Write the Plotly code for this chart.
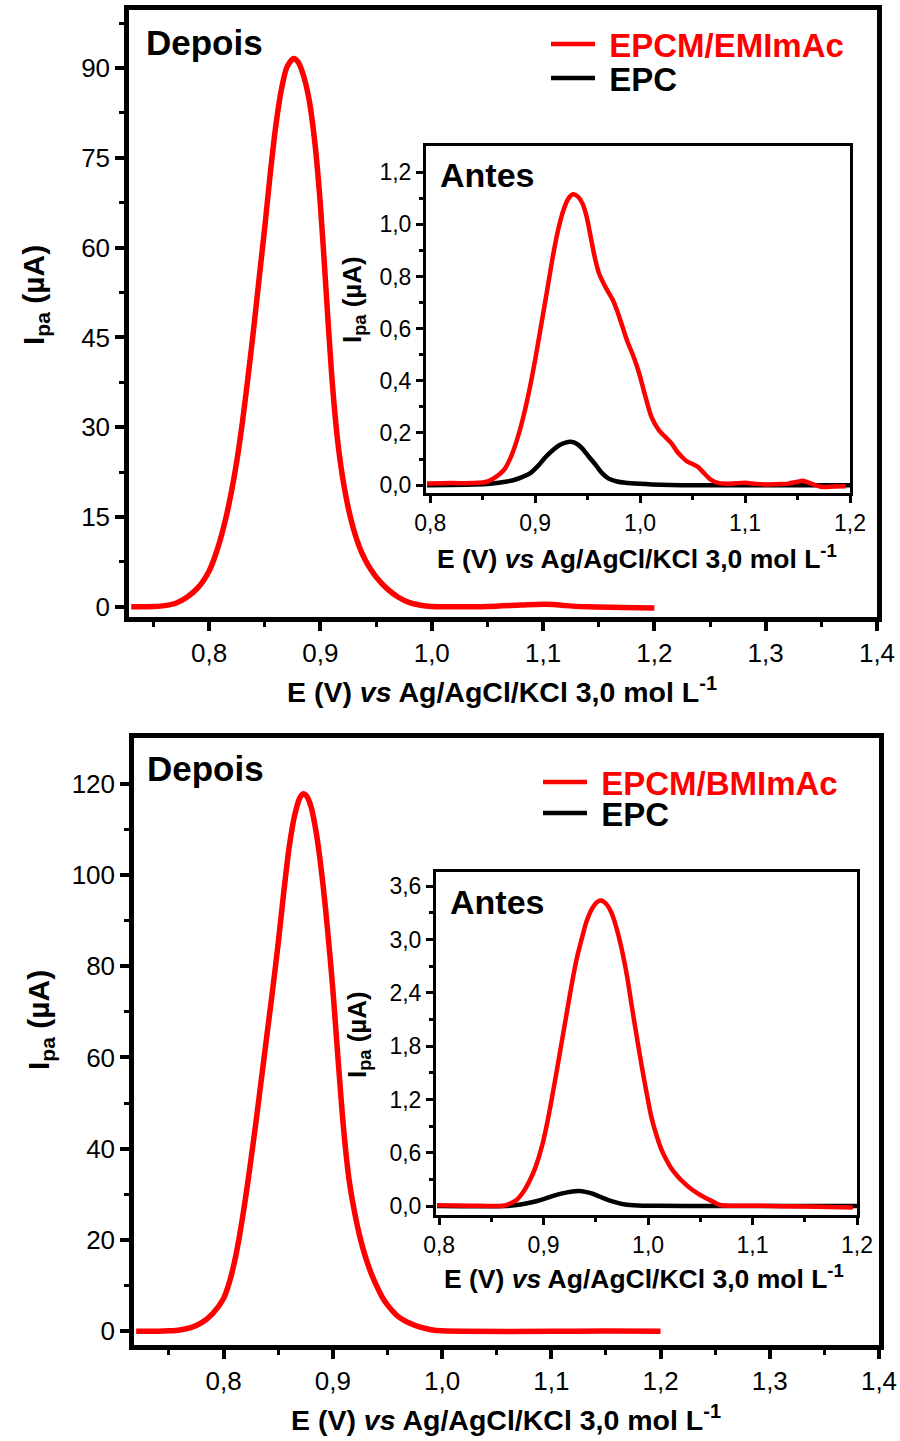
import plotly.graph_objects as go

# ---------------- data ----------------
# Panel A, "Depois": EPCM/EMImAc
dep1_E = [0.730, 0.740, 0.750, 0.760, 0.770, 0.780, 0.790, 0.800, 0.805, 0.810, 0.815, 0.820,
          0.825, 0.830, 0.835, 0.840, 0.845, 0.850, 0.855, 0.860, 0.865, 0.870, 0.876, 0.880,
          0.885, 0.890, 0.895, 0.900, 0.905, 0.910, 0.915, 0.920, 0.925, 0.930, 0.935, 0.940,
          0.945, 0.950, 0.960, 0.970, 0.980, 0.990, 1.000, 1.020, 1.050, 1.080, 1.100, 1.110,
          1.120, 1.140, 1.170, 1.200]
dep1_I = [0.0, 0.0, 0.05, 0.2, 0.6, 1.6, 3.2, 6.0, 8.3, 11.2, 14.8, 19.2,
          24.5, 31.0, 38.5, 46.5, 55.0, 63.5, 72.5, 80.5, 86.5, 90.2, 91.6, 91.0,
          88.6, 84.5, 77.5, 67.0, 53.0, 39.0, 28.5, 21.5, 16.5, 12.8, 10.0, 7.9,
          6.3, 5.0, 3.0, 1.6, 0.7, 0.25, 0.05, 0.0, 0.05, 0.3, 0.45, 0.4,
          0.2, 0.0, -0.1, -0.2]

# Panel A, "Antes": EPCM/EMImAc
ant1_E = [0.797, 0.820, 0.840, 0.854, 0.862, 0.870, 0.876, 0.882, 0.888, 0.894, 0.900, 0.906,
          0.912, 0.917, 0.922, 0.927, 0.932, 0.936, 0.941, 0.945, 0.949, 0.953, 0.957, 0.961,
          0.965, 0.969, 0.974, 0.978, 0.983, 0.988, 0.994, 0.999, 1.005, 1.011, 1.018, 1.024,
          1.030, 1.035, 1.040, 1.045, 1.049, 1.055, 1.060, 1.068, 1.075, 1.080, 1.090, 1.100,
          1.110, 1.119, 1.130, 1.141, 1.150, 1.155, 1.162, 1.172, 1.185, 1.196]
ant1_I = [0.006, 0.008, 0.008, 0.013, 0.030, 0.057, 0.100, 0.165, 0.250, 0.355, 0.480, 0.620,
          0.760, 0.880, 0.980, 1.055, 1.100, 1.115, 1.105, 1.080, 1.030, 0.950, 0.870, 0.810,
          0.775, 0.745, 0.710, 0.670, 0.610, 0.550, 0.490, 0.430, 0.340, 0.260, 0.210, 0.185,
          0.160, 0.130, 0.108, 0.090, 0.083, 0.070, 0.050, 0.019, 0.008, 0.006, 0.007, 0.009,
          0.005, 0.003, 0.004, 0.006, 0.013, 0.017, 0.008, -0.006, -0.005, -0.004]

# Panel A, "Antes": EPC
epc1_E = [0.797, 0.854, 0.870, 0.879, 0.887, 0.895, 0.903, 0.910, 0.917, 0.923, 0.929, 0.934,
          0.940, 0.945, 0.951, 0.958, 0.964, 0.970, 0.978, 0.986, 1.000, 1.011, 1.050, 1.200]
epc1_I = [0.000, 0.004, 0.012, 0.019, 0.030, 0.045, 0.075, 0.108, 0.135, 0.153, 0.163, 0.166,
          0.158, 0.140, 0.110, 0.076, 0.045, 0.025, 0.014, 0.009, 0.005, 0.003, 0.000, 0.000]

# Panel B, "Depois": EPCM/BMImAc
dep2_E = [0.720, 0.740, 0.750, 0.760, 0.770, 0.780, 0.790, 0.800, 0.805, 0.810, 0.815, 0.820,
          0.825, 0.830, 0.835, 0.840, 0.845, 0.850, 0.855, 0.860, 0.865, 0.870, 0.873, 0.876,
          0.880, 0.885, 0.890, 0.895, 0.900, 0.905, 0.910, 0.915, 0.920, 0.925, 0.930, 0.935,
          0.940, 0.945, 0.950, 0.960, 0.970, 0.980, 0.990, 1.000, 1.020, 1.100, 1.150, 1.200]
dep2_I = [0.0, 0.0, 0.1, 0.3, 0.8, 1.9, 3.9, 7.2, 10.5, 15.2, 21.5, 29.0,
          37.5, 46.5, 56.0, 65.5, 75.0, 85.0, 96.0, 106.0, 113.0, 117.0, 117.8, 117.3,
          115.0, 109.0, 100.0, 88.5, 75.0, 59.0, 44.0, 33.0, 26.0, 20.5, 16.2, 12.8,
          10.0, 7.6, 5.8, 3.2, 1.8, 0.9, 0.35, 0.1, 0.0, 0.0, 0.05, 0.0]

# Panel B, "Antes": EPCM/BMImAc
ant2_E = [0.798, 0.830, 0.861, 0.868, 0.874, 0.880, 0.886, 0.892, 0.899, 0.904, 0.908, 0.913,
          0.918, 0.923, 0.927, 0.932, 0.937, 0.941, 0.946, 0.951, 0.955, 0.960, 0.965, 0.970,
          0.975, 0.980, 0.984, 0.989, 0.994, 0.999, 1.003, 1.008, 1.013, 1.018, 1.022, 1.028,
          1.035, 1.041, 1.050, 1.057, 1.063, 1.069, 1.080, 1.104, 1.150, 1.196]
ant2_I = [0.010, 0.005, 0.004, 0.030, 0.068, 0.150, 0.270, 0.430, 0.700, 0.970, 1.220, 1.550,
          1.890, 2.230, 2.500, 2.800, 3.030, 3.200, 3.340, 3.420, 3.440, 3.400, 3.300, 3.120,
          2.880, 2.580, 2.280, 1.920, 1.570, 1.250, 1.010, 0.800, 0.630, 0.510, 0.430, 0.340,
          0.255, 0.195, 0.125, 0.080, 0.045, 0.012, 0.004, 0.004, -0.005, -0.015]

# Panel B, "Antes": EPC
epc2_E = [0.798, 0.864, 0.874, 0.883, 0.893, 0.902, 0.910, 0.918, 0.926, 0.934, 0.940, 0.946,
          0.954, 0.962, 0.970, 0.978, 0.990, 1.009, 1.040, 1.200]
epc2_I = [0.000, 0.000, 0.012, 0.030, 0.055, 0.086, 0.118, 0.143, 0.162, 0.169, 0.160, 0.143,
          0.105, 0.068, 0.040, 0.019, 0.008, 0.004, 0.000, 0.000]

# ---------------- ticks ----------------
main_x_vals = [0.8, 0.9, 1.0, 1.1, 1.2, 1.3, 1.4]
main_x_text = ["0,8", "0,9", "1,0", "1,1", "1,2", "1,3", "1,4"]
main_x_minor = [0.75, 0.85, 0.95, 1.05, 1.15, 1.25, 1.35]

inset_x_vals = [0.8, 0.9, 1.0, 1.1, 1.2]
inset_x_text = ["0,8", "0,9", "1,0", "1,1", "1,2"]
inset_x_minor = [0.85, 0.95, 1.05, 1.15]

main1_y_vals = [0, 15, 30, 45, 60, 75, 90]
main1_y_text = ["0", "15", "30", "45", "60", "75", "90"]
main1_y_minor = [7.5, 22.5, 37.5, 52.5, 67.5, 82.5, 97.5]

inset1_y_vals = [0.0, 0.2, 0.4, 0.6, 0.8, 1.0, 1.2]
inset1_y_text = ["0,0", "0,2", "0,4", "0,6", "0,8", "1,0", "1,2"]
inset1_y_minor = [0.1, 0.3, 0.5, 0.7, 0.9, 1.1]

main2_y_vals = [0, 20, 40, 60, 80, 100, 120]
main2_y_text = ["0", "20", "40", "60", "80", "100", "120"]
main2_y_minor = [10, 30, 50, 70, 90, 110]

inset2_y_vals = [0.0, 0.6, 1.2, 1.8, 2.4, 3.0, 3.6]
inset2_y_text = ["0,0", "0,6", "1,2", "1,8", "2,4", "3,0", "3,6"]
inset2_y_minor = [0.3, 0.9, 1.5, 2.1, 2.7, 3.3]

# ---------------- style ----------------
FONT = "Arial, 'Liberation Sans', sans-serif"
RED = "#ff0000"
BLACK = "#000000"
W, H = 900, 1441
NBSP = "\u00a0"

X_TITLE = "E (V) <i>vs</i> Ag/AgCl/KCl 3,0 mol L<sup>-1</sup>"
Y_TITLE = "I<sub>pa</sub> (µA)"


def px_x(p):
    return p / W


def px_y(p):
    return 1 - p / H


def axis(domain, rng, vals, text, minor, anchor, main=True):
    return dict(
        domain=domain, range=rng, anchor=anchor, automargin=False,
        showline=True, linecolor=BLACK, linewidth=4.5 if main else 3, mirror=True,
        ticks="outside", ticklen=9 if main else 7, tickwidth=3.5 if main else 3,
        tickcolor=BLACK, tickmode="array", tickvals=vals, ticktext=text,
        minor=dict(tickmode="array", tickvals=minor, ticks="outside",
                   ticklen=5 if main else 4, tickwidth=3 if main else 2.5,
                   tickcolor=BLACK, showgrid=False),
        tickfont=dict(family=FONT, size=26 if main else 23, color=BLACK),
        showgrid=False, zeroline=False,
    )


fig = go.Figure()

# Panel A
fig.add_trace(go.Scatter(x=dep1_E, y=dep1_I, xaxis="x", yaxis="y", mode="lines",
                         line=dict(color=RED, width=5.5, shape="spline", smoothing=0.8),
                         showlegend=False))
fig.add_trace(go.Scatter(x=epc1_E, y=epc1_I, xaxis="x2", yaxis="y2", mode="lines",
                         line=dict(color=BLACK, width=4.5, shape="spline", smoothing=0.8),
                         name=NBSP + "EPC", legend="legend2"))
fig.add_trace(go.Scatter(x=ant1_E, y=ant1_I, xaxis="x2", yaxis="y2", mode="lines",
                         line=dict(color=RED, width=4.5, shape="spline", smoothing=0.8),
                         name=NBSP + '<span style="color:#ff0000">EPCM/EMImAc</span>',
                         legend="legend"))

# Panel B
fig.add_trace(go.Scatter(x=dep2_E, y=dep2_I, xaxis="x3", yaxis="y3", mode="lines",
                         line=dict(color=RED, width=5.5, shape="spline", smoothing=0.8),
                         showlegend=False))
fig.add_trace(go.Scatter(x=epc2_E, y=epc2_I, xaxis="x4", yaxis="y4", mode="lines",
                         line=dict(color=BLACK, width=4.5, shape="spline", smoothing=0.8),
                         name=NBSP + "EPC", legend="legend4"))
fig.add_trace(go.Scatter(x=ant2_E, y=ant2_I, xaxis="x4", yaxis="y4", mode="lines",
                         line=dict(color=RED, width=4.5, shape="spline", smoothing=0.8),
                         name=NBSP + '<span style="color:#ff0000">EPCM/BMImAc</span>',
                         legend="legend3"))


def legend_at(x_px, y_px):
    return dict(x=px_x(x_px), y=px_y(y_px), xanchor="left", yanchor="middle",
                bgcolor="rgba(0,0,0,0)", borderwidth=0, itemwidth=44,
                font=dict(family=FONT, size=33, color=BLACK, weight="bold"))


fig.update_layout(
    width=W, height=H,
    margin=dict(l=0, r=0, t=0, b=0, autoexpand=False),
    paper_bgcolor="white", plot_bgcolor="white",
    xaxis=axis([px_x(129), px_x(877)], [0.728, 1.4], main_x_vals, main_x_text, main_x_minor, "y"),
    yaxis=axis([px_y(617), px_y(10)], [-1.7, 99.7], main1_y_vals, main1_y_text, main1_y_minor, "x"),
    xaxis2=axis([px_x(426), px_x(850)], [0.796, 1.2], inset_x_vals, inset_x_text, inset_x_minor, "y2", main=False),
    yaxis2=axis([px_y(493), px_y(146)], [-0.03, 1.3], inset1_y_vals, inset1_y_text, inset1_y_minor, "x2", main=False),
    xaxis3=axis([px_x(134), px_x(879)], [0.718, 1.4], main_x_vals, main_x_text, main_x_minor, "y3"),
    yaxis3=axis([px_y(1345), px_y(738)], [-3, 130], main2_y_vals, main2_y_text, main2_y_minor, "x3"),
    xaxis4=axis([px_x(436), px_x(857)], [0.797, 1.2], inset_x_vals, inset_x_text, inset_x_minor, "y4", main=False),
    yaxis4=axis([px_y(1215), px_y(872)], [-0.1, 3.76], inset2_y_vals, inset2_y_text, inset2_y_minor, "x4", main=False),
    legend=legend_at(546, 44),
    legend2=legend_at(546, 78),
    legend3=legend_at(538, 782),
    legend4=legend_at(538, 813),
)

ann = []


def label(text, x, y, size, angle=0):
    ann.append(dict(text=text, x=px_x(x), y=px_y(y), xref="paper", yref="paper",
                    showarrow=False, textangle=angle, xanchor="center", yanchor="middle",
                    font=dict(family=FONT, size=size, color=BLACK, weight="bold")))


# panel labels
label("Depois", 204, 42, 35)
label("Antes", 487, 175, 34)
label("Depois", 205, 768, 35)
label("Antes", 497, 902, 34)

# axis titles
label(X_TITLE, 502, 690, 28.5)
label(X_TITLE, 637, 557, 26.5)
label(X_TITLE, 506, 1418, 28.5)
label(X_TITLE, 644, 1277, 26.5)
label(Y_TITLE, 35, 295, 30, -90)
label(Y_TITLE, 353, 300, 26, -90)
label(Y_TITLE, 40, 1020, 30, -90)
label(Y_TITLE, 358, 1035, 26, -90)

fig.update_layout(annotations=ann)

fig.write_html("out.html")
